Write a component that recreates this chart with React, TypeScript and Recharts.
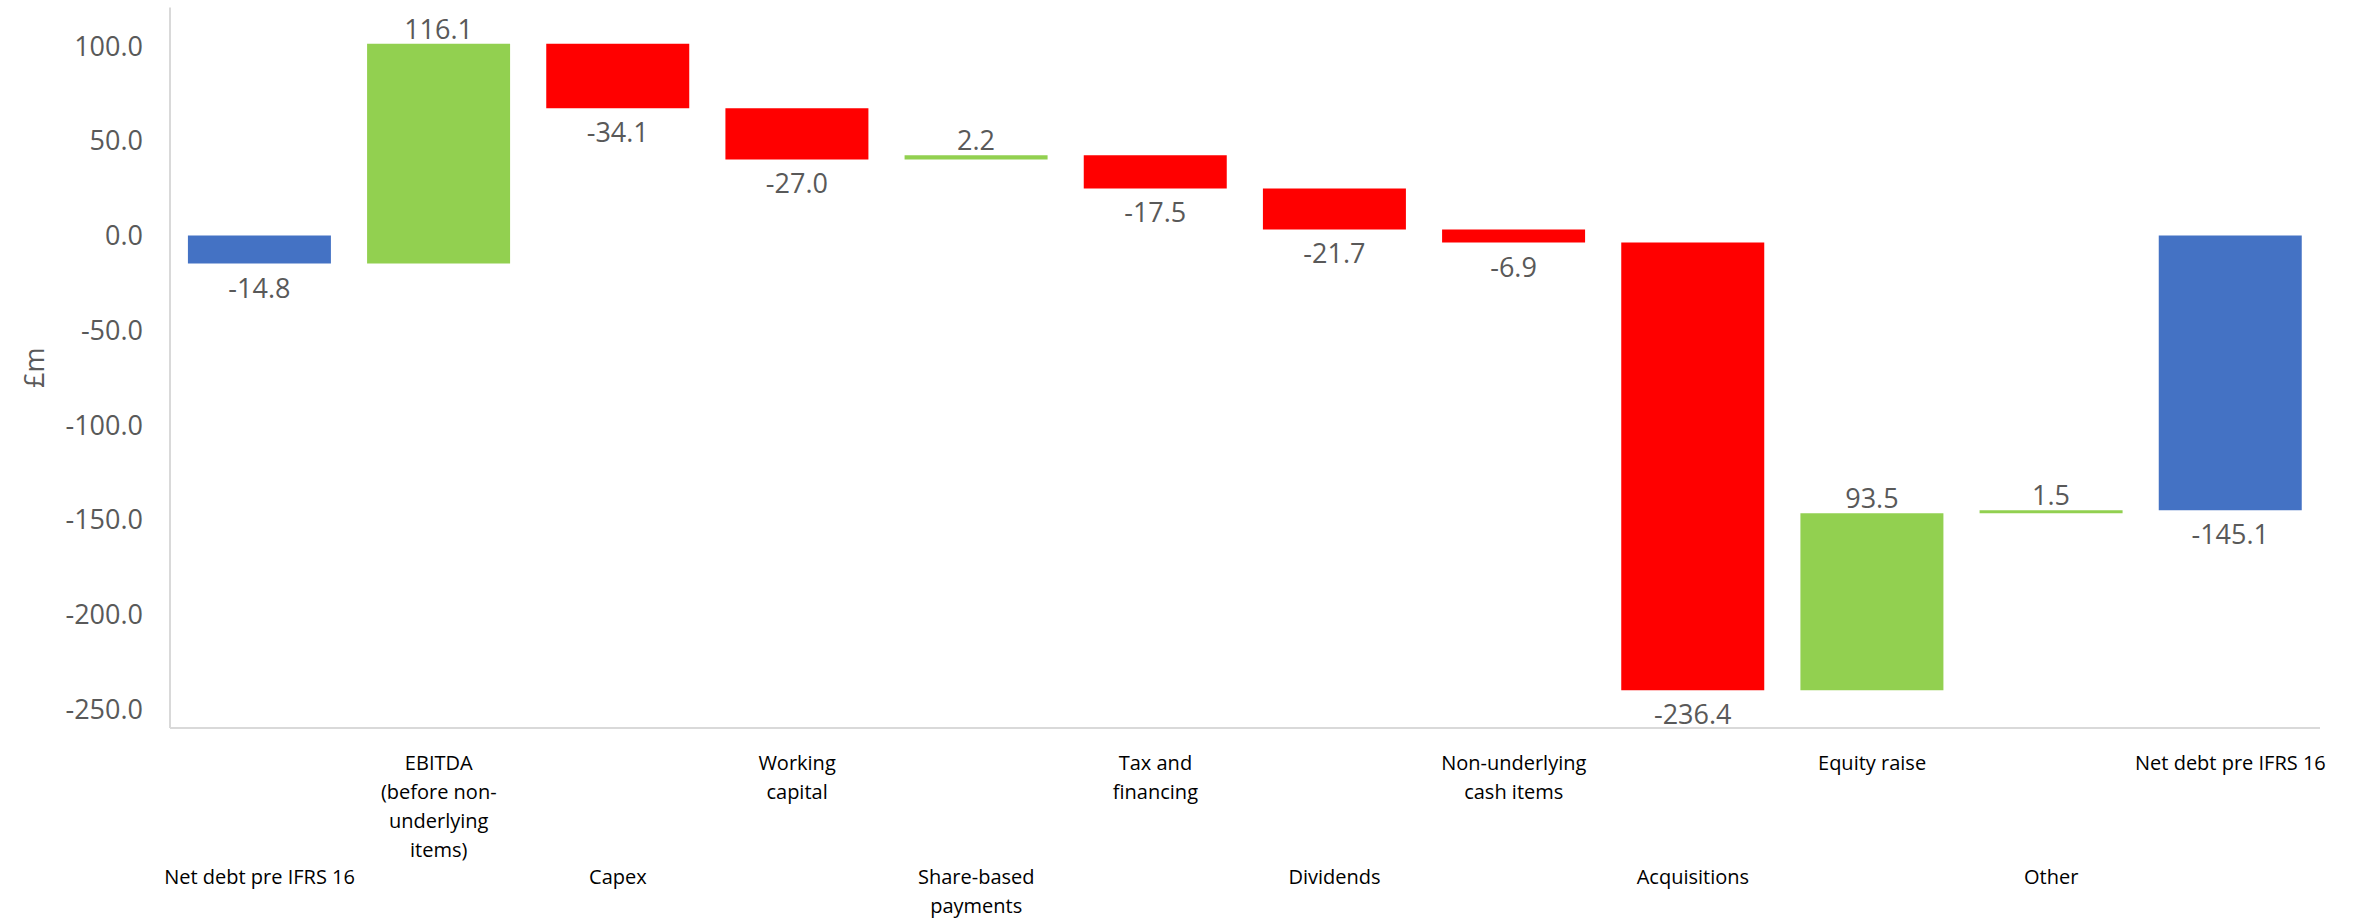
import React from 'react';
import { BarChart, Bar, Cell, XAxis, YAxis, LabelList } from 'recharts';

// category labels ('\n' marks a line break in the axis label)
const categories = [
    'Net debt pre IFRS 16',
    'EBITDA\n(before non-\nunderlying\nitems)',
    'Capex',
    'Working\ncapital',
    'Share-based\npayments',
    'Tax and\nfinancing',
    'Dividends',
    'Non-underlying\ncash items',
    'Acquisitions',
    'Equity raise',
    'Other',
    'Net debt pre IFRS 16'
];

// movement in £m for each step, totals are the opening / closing net debt
const changes = [-14.8, 116.1, -34.1, -27.0, 2.2, -17.5, -21.7, -6.9, -236.4, 93.5, 1.5, -145.1];
const isTotal = [true, false, false, false, false, false, false, false, false, false, false, true];

const yTicks = [-250, -200, -150, -100, -50, 0, 50, 100];

const BLUE = '#4472C4';
const GREEN = '#92D050';
const RED = '#FF0000';
const FONT = '"Open Sans", "Noto Sans", sans-serif';

// build the floating ranges for the waterfall
let running = 0;
const data = categories.map((name, i) => {
    let range: [number, number];
    if (isTotal[i]) {
        range = [0, changes[i]];
        running = changes[i];
    } else {
        range = [running, running + changes[i]];
        running += changes[i];
    }
    return { id: i, name, change: changes[i], range };
});

const barColor = (i: number) => (isTotal[i] ? BLUE : changes[i] > 0 ? GREEN : RED);

const CategoryTick = (props: any) => {
    const { x, y, index } = props;
    const lines = categories[index].split('\n');
    // alternate labels between two rows, like the original
    const startY = y + (index % 2 === 1 ? 42 : 156);
    return (
        <text x={x} y={startY} textAnchor="middle" fontSize={20} fill="#000" fontFamily={FONT}>
            {lines.map((l, k) => (
                <tspan key={k} x={x} y={startY + k * 29}>{l}</tspan>
            ))}
        </text>
    );
};

const ValueLabel = (props: any) => {
    const { x, y, width, height, value } = props;
    const top = Math.min(y, y + height);
    const bottom = Math.max(y, y + height);
    const up = value > 0;
    return (
        <text
            x={x + width / 2}
            y={up ? top - 5 : bottom + 34}
            textAnchor="middle"
            fontSize={27}
            fill="#595959"
            fontFamily={FONT}
        >
            {Number(value).toFixed(1)}
        </text>
    );
};

const AxisTitle = (props: any) => {
    const vb = props.viewBox;
    const cx = vb.x + 33;
    const cy = vb.y + vb.height / 2;
    return (
        <text x={cx} y={cy} transform={`rotate(-90 ${cx} ${cy})`} textAnchor="middle" dominantBaseline="central"
            fontSize={27} fill="#595959" fontFamily={FONT}>
            £m
        </text>
    );
};

export default function App() {
    return (
        <div style={{ position: 'absolute', left: 0, top: 0, background: '#fff' }}>
            <BarChart
                width={2359}
                height={919}
                data={data}
                margin={{ top: 7.5, right: 39, bottom: 0, left: 0 }}
                barCategoryGap="10%"
            >
                <XAxis
                    dataKey="id"
                    type="category"
                    interval={0}
                    height={191}
                    tickLine={false}
                    tickSize={0}
                    tickMargin={0}
                    axisLine={{ stroke: '#d9d9d9', strokeWidth: 2 }}
                    tick={<CategoryTick />}
                />
                <YAxis
                    type="number"
                    domain={[-260, 120.4]}
                    ticks={yTicks}
                    allowDataOverflow
                    width={170}
                    tickLine={false}
                    tickSize={0}
                    tickMargin={27}
                    axisLine={{ stroke: '#d9d9d9', strokeWidth: 2 }}
                    tick={{ fontSize: 27, fill: '#595959', fontFamily: FONT }}
                    tickFormatter={(v: number) => v.toFixed(1)}
                    label={<AxisTitle />}
                />
                <Bar dataKey="range" isAnimationActive={false}>
                    {data.map((d, i) => (
                        <Cell key={`cell-${i}`} fill={barColor(i)} />
                    ))}
                    <LabelList dataKey="change" content={<ValueLabel />} />
                </Bar>
            </BarChart>
        </div>
    );
}
